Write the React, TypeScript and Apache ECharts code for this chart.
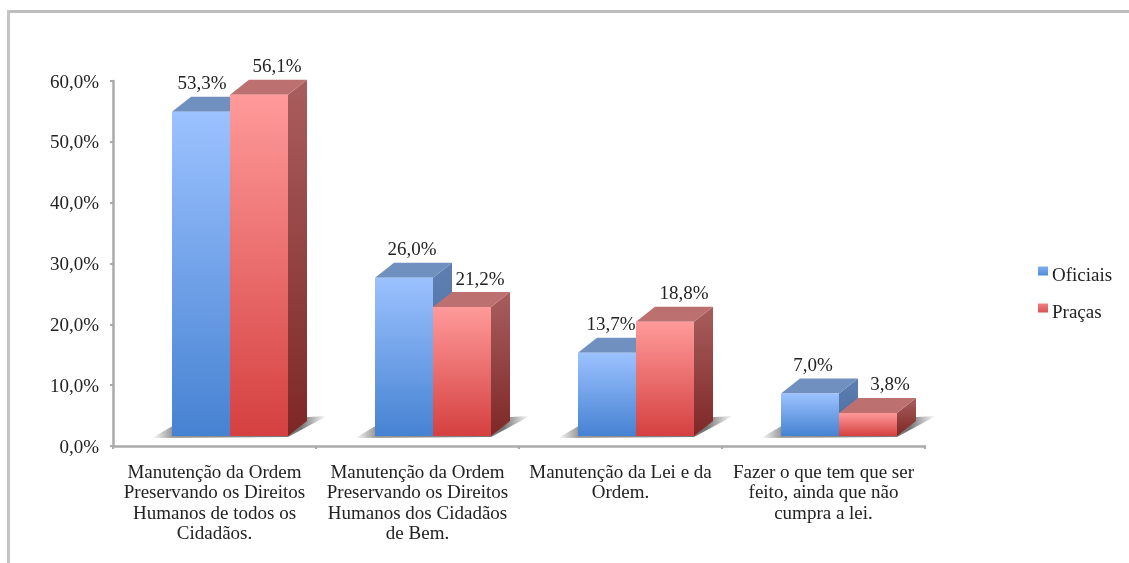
import React, { useEffect, useRef } from "react";
import * as echarts from "echarts";

const categories = [
  "Manutenção da Ordem\nPreservando os Direitos\nHumanos de todos os\nCidadãos.",
  "Manutenção da Ordem\nPreservando os Direitos\nHumanos dos Cidadãos\nde Bem.",
  "Manutenção da Lei e da\nOrdem.",
  "Fazer o que tem que ser\nfeito, ainda que não\ncumpra a lei.",
];
const oficiais = [53.3, 26.0, 13.7, 7.0];
const pracas = [56.1, 21.2, 18.8, 3.8];
const FONT = "'Liberation Serif', serif";
const FS = 19;
const fmt = (v: number) => v.toFixed(1).replace(".", ",") + "%";
const grad = (a: string, b: string) =>
  new echarts.graphic.LinearGradient(0, 0, 0, 1, [
    { offset: 0, color: a },
    { offset: 1, color: b },
  ]);

const BASE = -10, BW = 58, DX = 19, DY = 15, SHIFT = 15.5;
const labelDx = [[1, 18], [8, 18], [4, 19], [3, 22]];

const makeSeries = (
  name: string,
  values: number[],
  idx: number,
  c: { front: [string, string]; top: string; side: [string, string]; legend: [string, string] }
) => ({
  name,
  type: "custom",
  z: 2 + idx,
  itemStyle: { color: grad(c.legend[0], c.legend[1]) },
  data: values.map((v, i) => [i, v]),
  encode: { x: 0, y: 1 },
  renderItem: (_: any, api: any) => {
    const cat = api.value(0);
    const v = api.value(1);
    const pt = api.coord([cat, v]);
    const zero = api.coord([cat, 0]);
    const x0 = pt[0] + SHIFT - (idx === 0 ? BW : 0);
    const x1 = x0 + BW;
    const yt = pt[1] + BASE;
    const yb = zero[1] + BASE;
    const children: any[] = [
      {
        type: "polygon",
        shape: { points: [[x1, yb], [x1 + DX, yb - DY], [x1 + DX, yt - DY], [x1, yt]] },
        style: { fill: grad(c.side[0], c.side[1]) },
      },
      {
        type: "polygon",
        shape: { points: [[x0, yt], [x0 + DX, yt - DY], [x1 + DX, yt - DY], [x1, yt]] },
        style: { fill: c.top },
      },
      {
        type: "rect",
        shape: { x: x0, y: yt, width: BW, height: yb - yt },
        style: { fill: grad(c.front[0], c.front[1]) },
      },
      {
        type: "text",
        x: x0 + BW / 2 + labelDx[cat][idx],
        y: yt - DY - 14,
        style: {
          text: fmt(v),
          fontFamily: FONT,
          fontSize: FS,
          fill: "#222",
          align: "center",
          verticalAlign: "middle",
        },
      },
    ];
    if (idx === 0) {
      const sx0 = x0;
      const sx1 = x0 + 2 * BW + DX;
      children.unshift({
        type: "polygon",
        shape: {
          points: [[sx0 - 20, yb + 2], [sx0 + 4, yb - 12], [sx1 + 20, yb - 20], [sx1 - 19, yb + 1]],
        },
        style: {
          fill: new echarts.graphic.LinearGradient(0, 0, 1, 0, [
            { offset: 0, color: "rgba(130,130,130,0)" },
            { offset: 0.12, color: "rgba(130,130,130,0.85)" },
            { offset: 0.85, color: "rgba(110,110,110,0.95)" },
            { offset: 1, color: "rgba(120,120,120,0)" },
          ]),
        },
      });
    }
    return { type: "group", children };
  },
});

export default function App() {
  const ref = useRef<HTMLDivElement>(null);
  useEffect(() => {
    document.body.style.margin = "0";
    const chart = echarts.init(ref.current!, undefined, { renderer: "svg" });
    chart.setOption({
      animation: false,
      backgroundColor: "#fff",
      textStyle: { fontFamily: FONT },
      grid: { left: 113, right: 204, top: 81, bottom: 117 },
      graphic: [
        { type: "rect", shape: { x: 7, y: 10, width: 1122, height: 3 }, style: { fill: "#bdbdbd" } },
        { type: "rect", shape: { x: 7, y: 10, width: 3, height: 553 }, style: { fill: "#c4c4c4" } },
      ],
      legend: {
        orient: "vertical",
        left: 1038,
        top: 265,
        padding: 0,
        icon: "path://M0 0H10V9H0Z M0 16H0.01V16H0Z",
        itemWidth: 10,
        itemHeight: 16,
        itemGap: 18,
        textStyle: { fontFamily: FONT, fontSize: FS, color: "#222", padding: [0, 0, 0, -1] },
        data: ["Oficiais", "Praças"],
      },
      xAxis: {
        type: "category",
        data: categories,
        axisLine: { lineStyle: { color: "#aaaaaa", width: 2.5 } },
        axisTick: { show: true, length: 3, lineStyle: { color: "#aaaaaa", width: 2 } },
        axisLabel: {
          fontFamily: FONT,
          fontSize: FS,
          color: "#222",
          lineHeight: 20.5,
          margin: 15,
          interval: 0,
          align: "center",
          verticalAlign: "top",
        },
      },
      yAxis: {
        type: "value",
        min: 0,
        max: 60,
        interval: 10,
        splitLine: { show: false },
        axisLine: { show: true, lineStyle: { color: "#aaaaaa", width: 2.5 } },
        axisTick: { show: true, length: 3, lineStyle: { color: "#aaaaaa", width: 2 } },
        axisLabel: {
          fontFamily: FONT,
          fontSize: FS,
          color: "#222",
          margin: 14,
          formatter: (v: number) => fmt(v),
        },
      },
      series: [
        makeSeries("Oficiais", oficiais, 0, {
          front: ["#9CC2FF", "#4682D2"],
          top: "#7090C0",
          side: ["#5E7FB2", "#48699C"],
          legend: ["#7FAEF0", "#2F6FC8"],
        }),
        makeSeries("Praças", pracas, 1, {
          front: ["#FF9A9A", "#D54040"],
          top: "#BC7070",
          side: ["#A85E5E", "#7E2826"],
          legend: ["#F08080", "#C83030"],
        }),
      ],
    });
    return () => chart.dispose();
  }, []);
  return <div ref={ref} style={{ width: 1129, height: 563, filter: "blur(0.7px)" }} />;
}
